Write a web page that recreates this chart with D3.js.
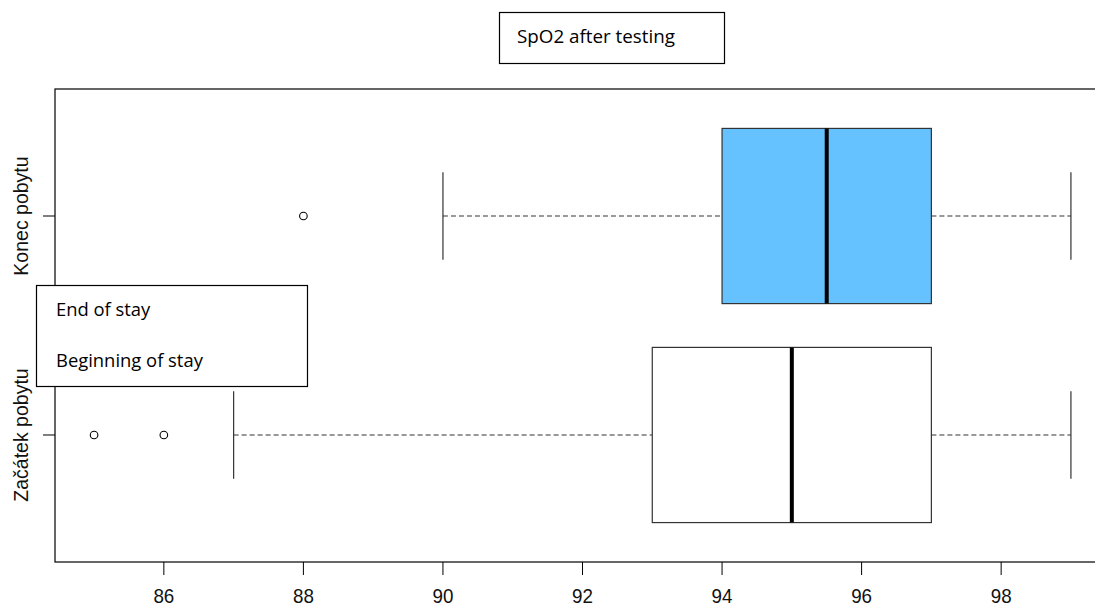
<!DOCTYPE html>
<html>
<head>
<meta charset="utf-8">
<script src="https://cdn.jsdelivr.net/npm/d3@7"></script>
<style>
  html, body { margin: 0; padding: 0; background: #fff; }
  svg { display: block; }
</style>
</head>
<body>
<svg id="chart" width="1095" height="607"></svg>
<script>
// Groups, bottom to top
const groups = ["Začátek pobytu", "Konec pobytu"];
// Five-number summaries per group: lower whisker, Q1, median, Q3, upper whisker
const whiskerLow = [87, 90];
const q1 = [93, 94];
const median = [95, 95.5];
const q3 = [97, 97];
const whiskerHigh = [99, 99];
// Outlying points per group
const outliers = [[85, 86], [88]];
// Box fills per group
const fills = ["#ffffff", "#66c2ff"];
// Axis ticks
const xTicks = [86, 88, 90, 92, 94, 96, 98];
const titleText = "SpO2 after testing";
const legendLabels = ["End of stay", "Beginning of stay"];

const svg = d3.select("#chart");
const plot = { left: 55, right: 1110, top: 89, bottom: 562 };

const x = d3.scaleLinear().domain([84.44, 99.56]).range([plot.left, plot.right]);
const y = d3.scaleLinear().domain([0.42, 2.58]).range([plot.bottom, plot.top]);

const boxHalf = 0.4, capHalf = 0.2;
const stroke = "#333";

groups.forEach((g, i) => {
  const pos = i + 1;
  const grp = svg.append("g");
  // whiskers (dashed)
  grp.append("line")
    .attr("x1", x(whiskerLow[i])).attr("x2", x(q1[i]))
    .attr("y1", y(pos)).attr("y2", y(pos))
    .attr("stroke", stroke).attr("stroke-width", 1.2).attr("stroke-dasharray", "5,3");
  grp.append("line")
    .attr("x1", x(q3[i])).attr("x2", x(whiskerHigh[i]))
    .attr("y1", y(pos)).attr("y2", y(pos))
    .attr("stroke", stroke).attr("stroke-width", 1.2).attr("stroke-dasharray", "5,3");
  // whisker caps
  [whiskerLow[i], whiskerHigh[i]].forEach(v => {
    grp.append("line")
      .attr("x1", x(v)).attr("x2", x(v))
      .attr("y1", y(pos - capHalf)).attr("y2", y(pos + capHalf))
      .attr("stroke", stroke).attr("stroke-width", 1.2);
  });
  // box
  grp.append("rect")
    .attr("x", x(q1[i])).attr("width", x(q3[i]) - x(q1[i]))
    .attr("y", y(pos + boxHalf)).attr("height", y(pos - boxHalf) - y(pos + boxHalf))
    .attr("fill", fills[i]).attr("stroke", stroke).attr("stroke-width", 1.2);
  // median
  grp.append("line")
    .attr("x1", x(median[i])).attr("x2", x(median[i]))
    .attr("y1", y(pos + boxHalf)).attr("y2", y(pos - boxHalf))
    .attr("stroke", "#000").attr("stroke-width", 4);
  // outliers
  grp.selectAll("circle").data(outliers[i]).join("circle")
    .attr("cx", d => x(d)).attr("cy", y(pos)).attr("r", 3.8)
    .attr("fill", "none").attr("stroke", "#000").attr("stroke-width", 1.1);
});

// plot frame
svg.append("rect")
  .attr("x", plot.left).attr("y", plot.top)
  .attr("width", plot.right - plot.left).attr("height", plot.bottom - plot.top)
  .attr("fill", "none").attr("stroke", "#000").attr("stroke-width", 1.2);

// x axis
const xAxis = svg.append("g");
xTicks.forEach(t => {
  xAxis.append("line")
    .attr("x1", x(t)).attr("x2", x(t)).attr("y1", plot.bottom).attr("y2", plot.bottom + 13)
    .attr("stroke", "#000").attr("stroke-width", 1);
  xAxis.append("text")
    .attr("x", x(t)).attr("y", 603.5).attr("text-anchor", "middle")
    .attr("font-family", "Liberation Sans, Arial, sans-serif").attr("font-size", 20)
    .attr("fill", "#111").attr("transform", `translate(${x(t)},0) scale(0.94,1) translate(${-x(t)},0)`)
    .text(t);
});

// y axis
groups.forEach((g, i) => {
  const yy = y(i + 1);
  svg.append("line")
    .attr("x1", plot.left - 12).attr("x2", plot.left).attr("y1", yy).attr("y2", yy)
    .attr("stroke", "#000").attr("stroke-width", 1);
  svg.append("text")
    .attr("transform", `translate(27.5,${yy}) rotate(-90)`)
    .attr("text-anchor", "middle")
    .attr("font-family", "Liberation Sans, Arial, sans-serif").attr("font-size", 19.5)
    .attr("fill", "#111")
    .text(g);
});

// legend box (drawn over the plot)
svg.append("rect")
  .attr("x", 36.5).attr("y", 285.5).attr("width", 271).attr("height", 101)
  .attr("fill", "#fff").attr("stroke", "#000").attr("stroke-width", 1.2);
legendLabels.forEach((l, i) => {
  svg.append("text")
    .attr("x", 56).attr("y", 316 + i * 51)
    .attr("font-family", "Open Sans, sans-serif").attr("font-size", 18.4)
    .attr("fill", "#000")
    .text(l);
});

// title box
svg.append("rect")
  .attr("x", 499.5).attr("y", 12.5).attr("width", 225).attr("height", 51)
  .attr("fill", "#fff").attr("stroke", "#000").attr("stroke-width", 1.2);
svg.append("text")
  .attr("x", 517).attr("y", 43)
  .attr("font-family", "Open Sans, sans-serif").attr("font-size", 18.8)
  .attr("fill", "#000")
  .text(titleText);
</script>
</body>
</html>
